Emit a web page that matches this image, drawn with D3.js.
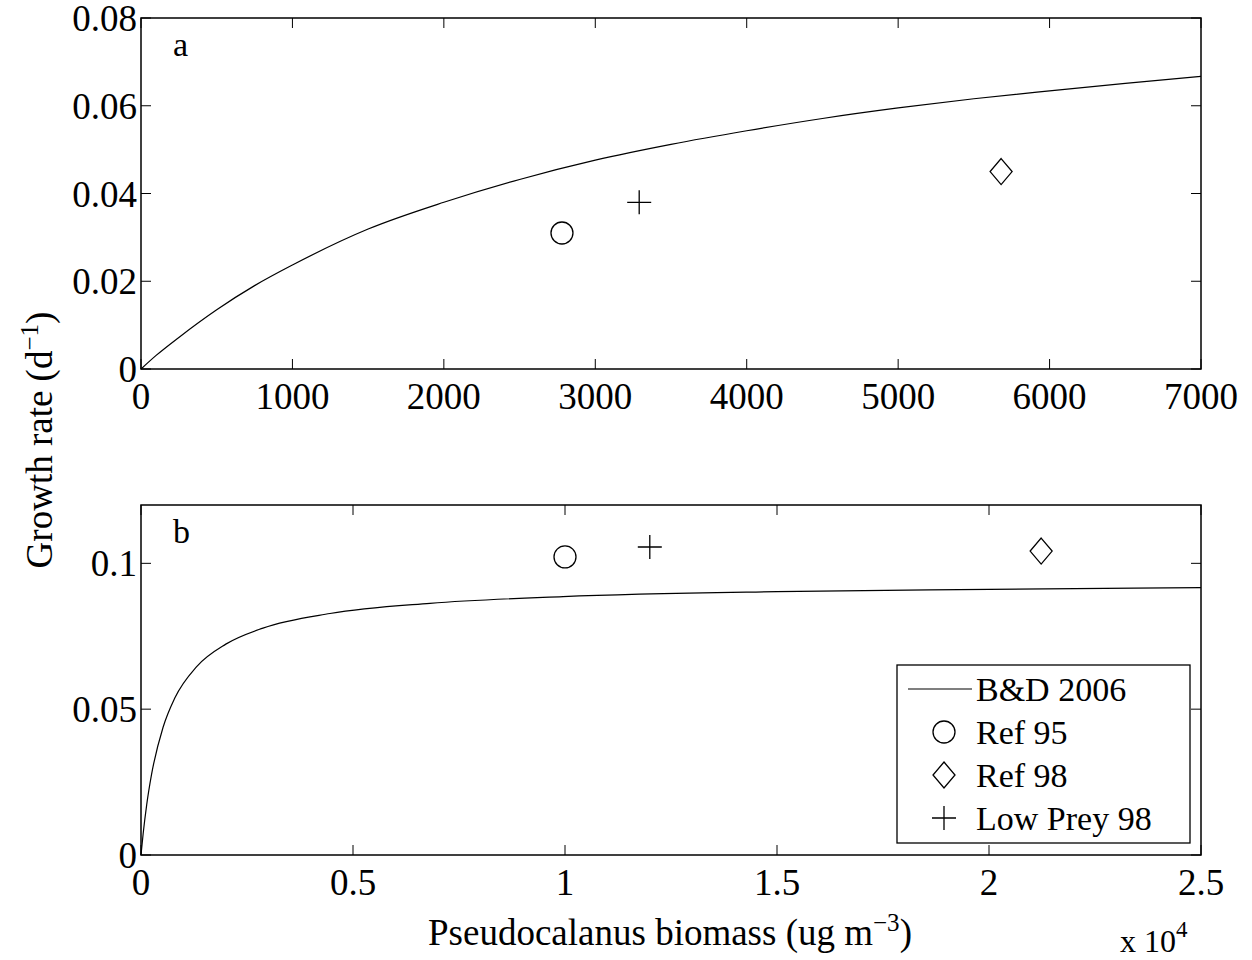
<!DOCTYPE html>
<html><head><meta charset="utf-8">
<script src="https://cdn.jsdelivr.net/npm/d3@7"></script>
<style>body{margin:0;background:#fff}text{font-family:"Liberation Serif","DejaVu Serif",serif;fill:#000}</style>
</head><body>
<script>
// Panel a: model curve and observations
const curveAx = [0, 100, 250, 500, 750, 1000, 1500, 2000, 2500, 3000, 3500, 4000, 4500, 5000, 5500, 6000, 6500, 7000];
const curveAy = [0, 0.0031, 0.0072, 0.0135, 0.0190, 0.0237, 0.0319, 0.0380, 0.0432, 0.0476, 0.0512, 0.0543, 0.0571, 0.0595, 0.0616, 0.0634, 0.0651, 0.0667];
const ptsA = [{k: "circle", x: 2780, y: 0.031}, {k: "plus", x: 3290, y: 0.038}, {k: "diamond", x: 5680, y: 0.045}];
// Panel b
const curveBx = [0, 50, 134, 250, 519, 800, 1313, 2000, 2877, 4457, 6816, 9953, 15000, 20000, 25000];
const curveBy = [0, 0.0072, 0.0172, 0.0277, 0.0437, 0.0539, 0.0646, 0.0723, 0.0778, 0.0828, 0.0863, 0.0886, 0.0903, 0.0911, 0.0917];
const ptsB = [{k: "circle", x: 10000, y: 0.1022}, {k: "plus", x: 12000, y: 0.1056}, {k: "diamond", x: 21230, y: 0.1042}];
const ticksAx = [0, 1000, 2000, 3000, 4000, 5000, 6000, 7000];
const ticksAy = [0, 0.02, 0.04, 0.06, 0.08];
const ticksBx = [0, 5000, 10000, 15000, 20000, 25000];
const ticksBy = [0, 0.05, 0.1];
const legendItems = [{k: "line", t: "B&D 2006"}, {k: "circle", t: "Ref 95"}, {k: "diamond", t: "Ref 98"}, {k: "plus", t: "Low Prey 98"}];

const FS = 37;
const svg = d3.select("body").append("svg").attr("width", 1252).attr("height", 960);
const L = 141, R = 1201;

function marker(g, k, x, y) {
  if (k === "circle") g.append("circle").attr("cx", x).attr("cy", y).attr("r", 11).attr("fill", "none").attr("stroke", "#000").attr("stroke-width", 1.3);
  else if (k === "diamond") g.append("path").attr("d", `M${x},${y-13}L${x+11},${y}L${x},${y+13}L${x-11},${y}Z`).attr("fill", "none").attr("stroke", "#000").attr("stroke-width", 1.3);
  else if (k === "plus") g.append("path").attr("d", `M${x-12},${y}H${x+12}M${x},${y-12}V${y+12}`).attr("stroke", "#000").attr("stroke-width", 1.3);
}

function panel(top, bot, xd, yd, xt, yt, xfmt, yfmt, cx, cy, pts, label) {
  const x = d3.scaleLinear().domain(xd).range([L, R]);
  const y = d3.scaleLinear().domain(yd).range([bot, top]);
  const g = svg.append("g");
  const line = d3.line().x((d, i) => x(cx[i])).y(d => y(d)).curve(d3.curveMonotoneX);
  g.append("path").attr("d", line(cy)).attr("fill", "none").attr("stroke", "#000").attr("stroke-width", 1.2);
  pts.forEach(p => marker(g, p.k, x(p.x), y(p.y)));
  // ticks inward on all sides
  const t = 10;
  xt.forEach(v => {
    g.append("path").attr("d", `M${x(v)},${bot}v${-t}M${x(v)},${top}v${t}`).attr("stroke", "#000");
    g.append("text").attr("x", x(v)).attr("y", bot + 40).attr("text-anchor", "middle").attr("font-size", FS).text(xfmt(v));
  });
  yt.forEach(v => {
    g.append("path").attr("d", `M${L},${y(v)}h${t}M${R},${y(v)}h${-t}`).attr("stroke", "#000");
    g.append("text").attr("x", L - 4).attr("y", y(v) + 13).attr("text-anchor", "end").attr("font-size", FS).text(yfmt(v));
  });
  g.append("rect").attr("x", L).attr("y", top).attr("width", R - L).attr("height", bot - top).attr("fill", "none").attr("stroke", "#000").attr("stroke-width", 1.5);
  g.append("text").attr("x", 173).attr("y", top + 38).attr("font-size", 34).text(label);
  return {x, y};
}

panel(18, 369, [0, 7000], [0, 0.08], ticksAx, ticksAy, d => d, d => d === 0 ? "0" : d.toFixed(2), curveAx, curveAy, ptsA, "a");
panel(505, 855, [0, 25000], [0, 0.12], ticksBx, ticksBy, d => d / 10000, d => d === 0 ? "0" : String(d), curveBx, curveBy, ptsB, "b");

// legend
const lg = svg.append("g");
lg.append("rect").attr("x", 897).attr("y", 665).attr("width", 293).attr("height", 178).attr("fill", "#fff").attr("stroke", "#000").attr("stroke-width", 1.3);
legendItems.forEach((it, i) => {
  const yy = 689 + i * 43;
  if (it.k === "line") lg.append("line").attr("x1", 908).attr("x2", 972).attr("y1", yy).attr("y2", yy).attr("stroke", "#000").attr("stroke-width", 1.2);
  else marker(lg, it.k, 944, yy);
  lg.append("text").attr("x", 976).attr("y", yy + 12).attr("font-size", 34).text(it.t);
});

// axis labels
const yl = svg.append("text").attr("transform", "translate(52,440) rotate(-90)").attr("text-anchor", "middle").attr("font-size", FS);
yl.append("tspan").text("Growth rate (d");
yl.append("tspan").attr("font-size", 25).attr("dy", -14).text("−1");
yl.append("tspan").attr("dy", 14).text(")");
const xl = svg.append("text").attr("x", 670).attr("y", 945).attr("text-anchor", "middle").attr("font-size", FS);
xl.append("tspan").text("Pseudocalanus biomass (ug m");
xl.append("tspan").attr("font-size", 25).attr("dy", -14).text("−3");
xl.append("tspan").attr("dy", 14).text(")");
const ex = svg.append("text").attr("x", 1120).attr("y", 952).attr("font-size", 32);
ex.append("tspan").text("x 10");
ex.append("tspan").attr("font-size", 23).attr("dy", -15).text("4");
</script>
</body></html>
